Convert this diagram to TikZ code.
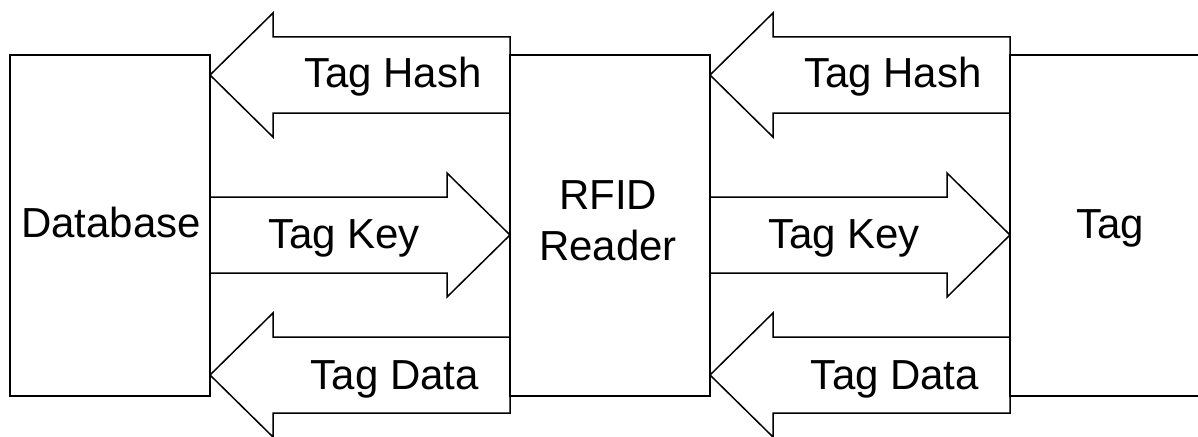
\documentclass[tikz,border=0pt]{standalone}
\usepackage{fontspec}
\setmainfont{Liberation Sans}
\begin{document}
\begin{tikzpicture}[x=1pt,y=-1pt,
  line width=1.5pt, line join=miter,
  box/.style={draw, rectangle, inner sep=0pt},
  lbl/.style={anchor=base, inner sep=0pt, font=\fontsize{42}{51}\selectfont},
  blk/.style={draw}]
\useasboundingbox (0,0) rectangle (1198,436);
\begin{scope}
\clip (0,0) rectangle (1198,436);
% boxes
\node[box, minimum width=200pt, minimum height=341pt] (db) at (110,225.5) {};
\node[box, minimum width=200pt, minimum height=341pt] (rd) at (610,225.5) {};
\node[box, minimum width=220pt, minimum height=341pt] (tg) at (1120,225.5) {};
% coordinates of arrow rows
\foreach \sx/\nm in {210/a, 710/b}{
  % Tag Hash (left-pointing), centre y=75
  \draw[blk] (\sx,75) -- ++(63,-62) -- ++(0,24) -- ++(237,0) -- ++(0,76) -- ++(-237,0) -- ++(0,24) -- cycle;
  % Tag Key (right-pointing), centre y=235
  \draw[blk] (\sx,197) -- ++(237,0) -- ++(0,-24) -- ++(63,62) -- ++(-63,62) -- ++(0,-24) -- ++(-237,0) -- cycle;
  % Tag Data (left-pointing), centre y=375
  \draw[blk] (\sx,375) -- ++(63,-62) -- ++(0,24) -- ++(237,0) -- ++(0,76) -- ++(-237,0) -- ++(0,24) -- cycle;
}
\end{scope}
% labels
\node[lbl] (dbl) at (111,237) {Database};
\node[lbl] (rd1) at (608,209) {RFID};
\node[lbl] (rd2) at (608,260) {Reader};
\node[lbl] (tgl) at (1110,238) {Tag};
\node[lbl] (h1) at (393,87) {Tag Hash};
\node[lbl] (k1) at (344,248) {Tag Key};
\node[lbl] (d1) at (395,389) {Tag Data};
\node[lbl] (h2) at (893,87) {Tag Hash};
\node[lbl] (k2) at (844,248) {Tag Key};
\node[lbl] (d2) at (895,389) {Tag Data};
\end{tikzpicture}
\end{document}
